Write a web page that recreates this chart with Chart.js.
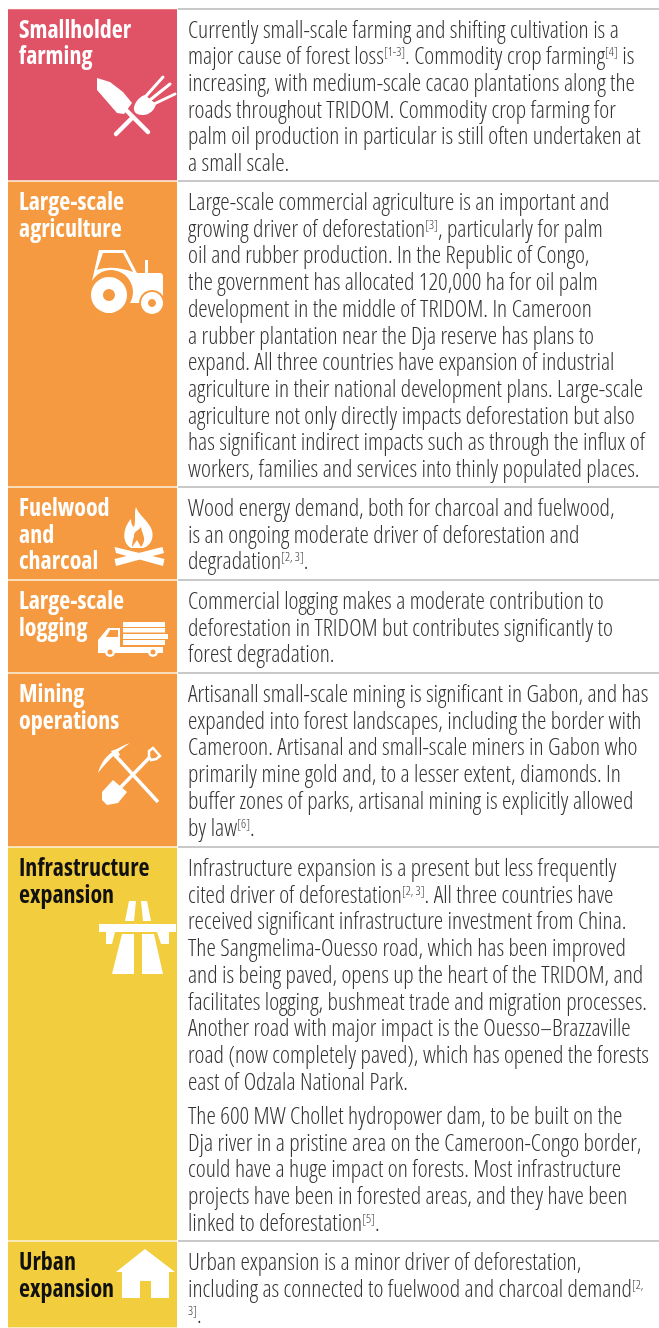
<!DOCTYPE html>
<html lang="en">
<head>
<meta charset="UTF-8">
<title>Drivers of deforestation in TRIDOM</title>
<script src="https://cdn.jsdelivr.net/npm/chart.js"></script>
<style>
    html, body { margin: 0; padding: 0; background: #fff; overflow: hidden; }
    #wrap { position: relative; width: 659px; height: 1328px; }
    #chart { position: absolute; left: 0; top: 0; }
    .rule { position: absolute; left: 178px; right: 0; height: 2px; background: #c9c9c9; }
    .head, .body { position: absolute; white-space: nowrap; font-family: 'Open Sans', sans-serif; line-height: 26.7px; }
    .head { left: 19px; font-size: 24px; font-weight: 700; font-stretch: 75%; }
    .body { left: 188px; font-size: 23.7px; font-weight: 300; font-stretch: 79.5%; color: #333; }
    .body p { margin: 0 0 7.5px; }
    sup { font-size: 12.5px; line-height: 0; vertical-align: 8px; }
    .icon { position: absolute; left: 0; top: 0; }
</style>
</head>
<body>
<div id="wrap">
    <canvas id="chart" width="659" height="1328"></canvas>
    <svg class="icon" width="659" height="1328" fill="#fff" stroke="none">
        <!-- trowel and fork -->
        <path d="M97 78 L110 82 L123 92 L132 103 L124 114 L117 113 L97 90 Z"/>
        <path d="M124 108 L148 132 M116 134 L132 118" stroke="#fff" stroke-width="4.500" stroke-linecap="round"/>
        <path d="M134 107 C136 100 141 96 145 95 L156 104 C155 110 148 116 142 115 C137 115 133 112 134 107 Z"/>
        <path d="M146 96 L163 77 M150 100 L170 84 M154 104 L175 94" stroke="#fff" stroke-width="3" stroke-linecap="round"/>
        <!-- tractor -->
        <path fill-rule="evenodd" d="M99 250 H125 L137 273 H160 Q163 273 163 277 V296 A13 13 0 0 0 139 303 H130 A21.500 21.500 0 0 0 92 281 Z M103 253 H123 L133 272 C122 268 108 266 97 270 Z"/>
        <path d="M145 260 H148 V274 H145 Z"/>
        <path fill-rule="evenodd" d="M109 277 a18 18 0 1 0 0.01 0 Z M109 289 a6 6 0 1 1 -0.01 0 Z"/>
        <path fill-rule="evenodd" d="M152 292 a11 11 0 1 0 0.01 0 Z M152 299 a4 4 0 1 1 -0.01 0 Z"/>
        <!-- fire -->
        <path d="M136 507 C138 514 147 520 151 528 C155 537 151 546 143 548 L131 548 C125 545 123 537 125 530 C126 525 129 521 131 519 C131 523 132 526 134 527 C136 520 134 513 136 507 Z"/>
        <path d="M134 536 C134 531 138 531 141 527 C142 533 145 537 144 541 C143 544 142 546 141 547 L137 540 L132 547 C132 543 133 540 134 536 Z" fill="#f59a40"/>
        <path d="M114.500 547 L116 553 L163 566 L164.500 559 Z M114.500 559 L116 566 L164 553 L162.500 547 Z"/>
        <!-- truck -->
        <path d="M123 622 H165 V627 H123 Z M123 628 H165 V632.500 H123 Z M123 634 H168 V639 H123 Z M123 640 H165 V645 H123 Z"/>
        <path fill-rule="evenodd" d="M98 640 L108 628 H120 V647 H163 V653 H98 Z M110 630 L106 637 H118 V630 Z"/>
        <circle cx="110" cy="652" r="5"/><circle cx="153" cy="652" r="5"/>
        <circle cx="110" cy="652" r="2.500" fill="#f59a40"/><circle cx="153" cy="652" r="2.500" fill="#f59a40"/>
        <!-- pick and shovel -->
        <path d="M113 753 L158 802 M118 790 L150 757" stroke="#fff" stroke-width="3.500"/>
        <path d="M98 773 C102 757 114 749 130 743 C118 751 108 760 98 773 Z"/>
        <path d="M111 751 L117 749 L120 755 L115 758 Z"/>
        <path d="M149 757 L149 751 L153 748 L160 756 L156 759 L151 760 Z" fill="none" stroke="#fff" stroke-width="2.500"/>
        <path d="M113 780 L127 792 L118 803 L107 805 L102 800 L102 792 Z"/>
        <!-- road -->
        <path d="M129 901 H136 L134 921 H125 Z M141 901 H147 L151 921 H143 Z M99 924 H176 V932 H169 V944 H161 L157 932 H115 L112 944 H106 V932 H99 Z M122 934 H134 V974 H112 Z M142 934 H154 L163 974 H142 Z"/>
        <!-- house -->
        <path fill-rule="evenodd" d="M145 1249 L175 1272 H169 V1298 H122 V1272 H116 Z M140 1281 V1298 H151 V1281 Z"/>
    </svg>
</div>
<script>
    // row data
    const rowNames = ['Smallholder farming', 'Large-scale agriculture', 'Fuelwood and charcoal', 'Large-scale logging', 'Mining operations', 'Infrastructure expansion', 'Urban expansion'];
    const rowHeights = [172.5, 306, 93, 93, 174, 394, 87];
    const rowColours = ['#e05265', '#f59a40', '#f59a40', '#f59a40', '#f59a40', '#f2cd3d', '#f2cd3d'];
    const headColours = ['#fff', '#fff', '#fff', '#fff', '#fff', '#111', '#111'];
    const rowHeads = [
        'Smallholder<br>farming',
        'Large-scale<br>agriculture',
        'Fuelwood<br>and<br>charcoal',
        'Large-scale<br>logging',
        'Mining<br>operations',
        'Infrastructure<br>expansion',
        'Urban<br>expansion'
    ];
    const rowTexts = [
        'Currently small-scale farming and shifting cultivation is a<br>major cause of forest loss<sup>[1-3]</sup>. Commodity crop farming<sup>[4]</sup> is<br>increasing, with medium-scale cacao plantations along the<br>roads throughout TRIDOM. Commodity crop farming for<br>palm oil production in particular is still often undertaken at<br>a small scale.',
        'Large-scale commercial agriculture is an important and<br>growing driver of deforestation<sup>[3]</sup>, particularly for palm<br>oil and rubber production. In the Republic of Congo,<br>the government has allocated 120,000 ha for oil palm<br>development in the middle of TRIDOM. In Cameroon<br>a rubber plantation near the Dja reserve has plans to<br>expand. All three countries have expansion of industrial<br>agriculture in their national development plans. Large-scale<br>agriculture not only directly impacts deforestation but also<br>has significant indirect impacts such as through the influx of<br>workers, families and services into thinly populated places.',
        'Wood energy demand, both for charcoal and fuelwood,<br>is an ongoing moderate driver of deforestation and<br>degradation<sup>[2, 3]</sup>.',
        'Commercial logging makes a moderate contribution to<br>deforestation in TRIDOM but contributes significantly to<br>forest degradation.',
        'Artisanall small-scale mining is significant in Gabon, and has<br>expanded into forest landscapes, including the border with<br>Cameroon. Artisanal and small-scale miners in Gabon who<br>primarily mine gold and, to a lesser extent, diamonds. In<br>buffer zones of parks, artisanal mining is explicitly allowed<br>by law<sup>[6]</sup>.',
        '<p>Infrastructure expansion is a present but less frequently<br>cited driver of deforestation<sup>[2, 3]</sup>. All three countries have<br>received significant infrastructure investment from China.<br>The Sangmelima-Ouesso road, which has been improved<br>and is being paved, opens up the heart of the TRIDOM, and<br>facilitates logging, bushmeat trade and migration processes.<br>Another road with major impact is the Ouesso–Brazzaville<br>road (now completely paved), which has opened the forests<br>east of Odzala National Park.</p><p>The 600 MW Chollet hydropower dam, to be built on the<br>Dja river in a pristine area on the Cameroon-Congo border,<br>could have a huge impact on forests. Most infrastructure<br>projects have been in forested areas, and they have been<br>linked to deforestation<sup>[5]</sup>.</p>',
        'Urban expansion is a minor driver of deforestation,<br>including as connected to fuelwood and charcoal demand<sup>[2,</sup><br><sup>3]</sup>.'
    ];

    // one stacked bar per row, white text column is laid over the page
    const chart = new Chart(document.getElementById('chart'), {
        type: 'bar',
        data: {
            labels: ['Driver'],
            datasets: rowNames.map((name, i) => ({
                label: name,
                data: [rowHeights[i]],
                backgroundColor: rowColours[i],
                borderColor: '#fdf3e2',
                borderWidth: { top: 1, bottom: 1 },
                borderSkipped: false,
                barPercentage: 1,
                categoryPercentage: 1,
                stack: 'rows'
            }))
        },
        options: {
            responsive: false,
            animation: false,
            layout: { padding: { left: 8, right: 482, top: 8.5, bottom: 0 } },
            plugins: { legend: { display: false }, tooltip: { enabled: false } },
            scales: {
                x: { display: false, stacked: true },
                y: { display: false, stacked: true, reverse: true, min: 0, max: rowHeights.reduce((a, b) => a + b, 0) }
            }
        }
    });

    // text and rules follow the value scale of the chart
    const wrap = document.getElementById('wrap');
    let rowTop = 0;
    rowNames.forEach((name, i) => {
        const y = chart.scales.y.getPixelForValue(rowTop);
        const rule = document.createElement('div');
        rule.className = 'rule';
        rule.style.top = (y - 1) + 'px';
        wrap.appendChild(rule);

        const head = document.createElement('div');
        head.className = 'head';
        head.style.top = (y + 7) + 'px';
        head.style.color = headColours[i];
        head.innerHTML = rowHeads[i];
        wrap.appendChild(head);

        const body = document.createElement('div');
        body.className = 'body';
        body.style.top = (y + 7) + 'px';
        body.innerHTML = rowTexts[i];
        wrap.appendChild(body);
        rowTop += rowHeights[i];
    });
</script>
</body>
</html>
